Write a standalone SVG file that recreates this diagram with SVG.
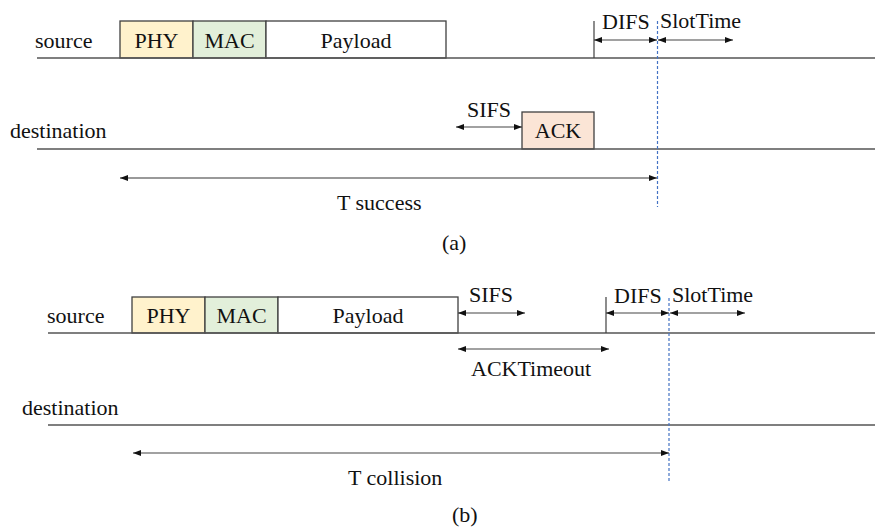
<svg xmlns="http://www.w3.org/2000/svg" width="875" height="531" viewBox="0 0 875 531">
  <style>
    text { font-family: "Liberation Serif", "Times New Roman", serif; font-size: 22px; fill: #111; }
    .mid { text-anchor: middle; }
    .frame { stroke: #404040; stroke-width: 1.3; }
    .phy { fill: #fff2cc; }
    .mac { fill: #e2efda; }
    .pay { fill: #ffffff; }
    .ack { fill: #fbe5d6; }
    .axis { stroke: #555; stroke-width: 1.3; fill: none; }
    .tick { stroke: #404040; stroke-width: 1.2; fill: none; }
    .span { stroke: #444; stroke-width: 1.2; fill: none; marker-start: url(#tip); marker-end: url(#tip); }
    .span-long { stroke: #777; stroke-width: 1.6; fill: none; marker-start: url(#tip); marker-end: url(#tip); }
    .ref { stroke: #4472c4; stroke-width: 1.2; stroke-dasharray: 3 2; fill: none; }
  </style>
  <defs>
    <marker id="tip" viewBox="0 0 8 6" refX="8" refY="3" markerWidth="8" markerHeight="6" markerUnits="userSpaceOnUse" orient="auto-start-reverse">
      <path d="M0,0 L8,3 L0,6 Z" fill="#111"/>
    </marker>
  </defs>

  <rect width="875" height="531" fill="#ffffff"/>

  <!-- (a) successful transmission -->
  <g id="a-source-label"><text x="35" y="48">source</text></g>
  <g id="a-dest-label"><text x="10" y="138">destination</text></g>
  <g id="a-phy"><rect class="frame phy" x="120" y="21" width="73" height="37"/><text class="mid" x="156.5" y="48">PHY</text></g>
  <g id="a-mac"><rect class="frame mac" x="193" y="21" width="73" height="37"/><text class="mid" x="229.5" y="48">MAC</text></g>
  <g id="a-payload"><rect class="frame pay" x="266" y="21" width="180" height="37"/><text class="mid" x="356" y="48">Payload</text></g>
  <g id="a-ack"><rect class="frame ack" x="522" y="112" width="72" height="37"/><text class="mid" x="558" y="138">ACK</text></g>
  <g id="a-difs-label"><text x="602" y="29">DIFS</text></g>
  <g id="a-slot-label"><text x="660" y="28">SlotTime</text></g>
  <g id="a-sifs-label"><text x="467" y="117">SIFS</text></g>
  <g id="a-total-label"><text x="337" y="210">T success</text></g>
  <g id="a-caption"><text x="442" y="250">(a)</text></g>

  <!-- (b) collision -->
  <g id="b-source-label"><text x="47" y="323">source</text></g>
  <g id="b-dest-label"><text x="22" y="415">destination</text></g>
  <g id="b-phy"><rect class="frame phy" x="132" y="297" width="73" height="36"/><text class="mid" x="168.5" y="323">PHY</text></g>
  <g id="b-mac"><rect class="frame mac" x="205" y="297" width="73" height="36"/><text class="mid" x="241.5" y="323">MAC</text></g>
  <g id="b-payload"><rect class="frame pay" x="278" y="297" width="180" height="36"/><text class="mid" x="368" y="323">Payload</text></g>
  <g id="b-sifs-label"><text x="469" y="302">SIFS</text></g>
  <g id="b-difs-label"><text x="614" y="303">DIFS</text></g>
  <g id="b-slot-label"><text x="672" y="302">SlotTime</text></g>
  <g id="b-timeout-label"><text x="471" y="376">ACKTimeout</text></g>
  <g id="b-total-label"><text x="348" y="485">T collision</text></g>
  <g id="b-caption"><text x="452" y="522">(b)</text></g>

  <g id="connectors">
    <!-- time axes -->
    <line class="axis" x1="37" y1="58" x2="875" y2="58"/>
    <line class="axis" x1="37" y1="149" x2="875" y2="149"/>
    <line class="axis" x1="48" y1="333" x2="875" y2="333"/>
    <line class="axis" x1="48" y1="425" x2="875" y2="425"/>
    <!-- DIFS start ticks -->
    <line class="tick" x1="594" y1="21" x2="594" y2="58"/>
    <line class="tick" x1="606" y1="297" x2="606" y2="333"/>
    <!-- backoff reference lines -->
    <line class="ref" x1="657.5" y1="21" x2="657.5" y2="207"/>
    <line class="ref" x1="669" y1="298" x2="669" y2="482"/>
    <!-- (a) intervals -->
    <line class="span" x1="594" y1="40" x2="657" y2="40"/>
    <line class="span" x1="658" y1="40" x2="733" y2="40"/>
    <line class="span" x1="456" y1="127" x2="522" y2="127"/>
    <line class="span-long" x1="120" y1="178" x2="657" y2="178"/>
    <!-- (b) intervals -->
    <line class="span" x1="458" y1="313" x2="525" y2="313"/>
    <line class="span" x1="606" y1="313" x2="669" y2="313"/>
    <line class="span" x1="670" y1="313" x2="745" y2="313"/>
    <line class="span" x1="458" y1="349" x2="609" y2="349"/>
    <line class="span" x1="133" y1="453" x2="669" y2="453"/>
  </g>
</svg>
